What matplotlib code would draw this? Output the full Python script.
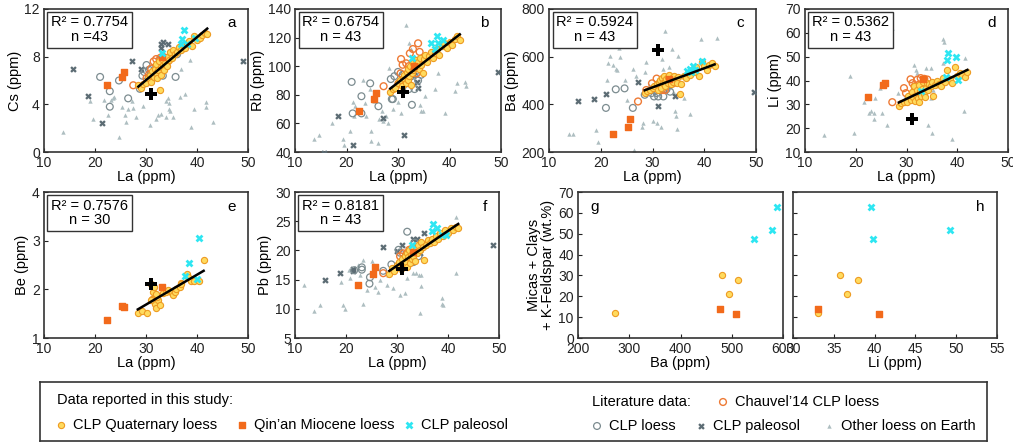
import numpy as np
import matplotlib
matplotlib.use('Agg')
from matplotlib import pyplot as plt

plt.rcParams['font.family'] = ['Liberation Sans', 'DejaVu Sans']
plt.rcParams['font.size'] = 10

# ---- data reported in this study ----
# CLP Quaternary loess (n = 43)
la_q = [28.5, 29.0, 29.5, 30.0, 30.3, 30.8, 31.0, 31.2, 31.5, 31.7, 31.9, 32.0, 32.2, 32.4, 32.5,
        32.7, 32.9, 33.0, 33.2, 33.4, 33.6, 33.8, 34.0, 34.2, 34.5, 34.8, 35.0, 35.3, 35.6, 36.0,
        36.4, 36.8, 37.2, 37.6, 38.0, 38.5, 39.0, 39.5, 40.0, 40.5, 41.0, 41.5, 42.0]
cs_q = [5.6, 5.4, 5.7, 5.8, 6.2, 6.5, 5.9, 6.8, 6.3, 7.0, 6.6, 7.4, 6.2, 6.9, 7.6,
        5.2, 7.1, 6.5, 7.8, 7.3, 6.9, 7.5, 8.0, 7.2, 7.7, 8.4, 7.9, 8.6, 8.2, 8.4,
        8.8, 8.6, 9.0, 8.7, 9.1, 9.3, 8.9, 9.7, 9.4, 9.6, 9.8, 10.0, 9.9]
rb_q = [82, 84, 85, 88, 90, 86, 92, 94, 88, 96, 90, 98, 93, 100, 87,
        95, 102, 97, 99, 104, 100, 103, 98, 106, 101, 95, 105, 108, 103, 107,
        110, 106, 109, 112, 108, 114, 116, 113, 117, 115, 119, 121, 118]
ba_q = [448, 455, 462, 470, 478, 485, 460, 492, 500, 470, 510, 488, 520, 495, 478,
        505, 515, 490, 525, 500, 485, 510, 495, 520, 505, 490, 515, 445, 485, 520,
        510, 530, 525, 545, 535, 555, 520, 578, 560, 545, 565, 575, 560]
li_q = [29.5, 30.5, 30.8, 31.0, 33.5, 32.0, 35.0, 33.0, 37.5, 31.5, 34.0, 36.0, 32.5, 38.0, 31.0,
        35.5, 33.5, 36.5, 39.5, 34.5, 33.0, 37.0, 39.0, 36.0, 38.5, 37.5, 39.5, 33.5, 38.0, 40.0,
        38.5, 37.5, 41.0, 39.5, 44.5, 40.5, 39.0, 45.5, 42.0, 43.0, 42.5, 41.5, 43.5]
pb_q = [16.0, 17.0, 16.5, 17.5, 18.0, 16.8, 18.5, 17.5, 19.0, 18.0, 19.5, 17.2, 18.8, 20.0, 17.8,
        19.2, 18.5, 20.5, 19.0, 19.8, 18.2, 20.2, 19.5, 21.0, 20.0, 21.5, 20.5, 18.3, 21.0, 21.8,
        21.2, 22.0, 21.5, 22.5, 22.0, 23.0, 22.5, 23.5, 23.0, 23.8, 23.5, 24.0, 23.8]
# Be measured on 30 samples
la_q_be = [28.4, 29.3, 30.1, 31.0, 31.4, 31.2, 31.7, 32.0, 32.4, 32.7, 32.2, 31.6, 32.0, 33.3, 34.0,
           34.3, 35.0, 35.3, 35.6, 35.9, 36.6, 36.8, 36.9, 38.0, 38.2, 38.9, 39.4, 40.4, 41.3, 31.0]
be_q = [1.52, 1.55, 1.52, 2.10, 1.95, 1.80, 1.70, 1.62, 1.78, 1.68, 1.85, 2.05, 1.90, 1.92, 1.95,
        1.98, 1.92, 1.88, 1.95, 2.00, 2.05, 2.12, 2.10, 2.32, 2.25, 2.18, 2.18, 2.18, 2.60, 1.78]

# Qin'an Miocene loess
la_m = [22.4, 25.3, 25.7, 33.2]
cs_m = [5.6, 6.3, 6.7, 8.0]
rb_m = [69, 77, 81, 100]
ba_m = [275, 305, 340, 505]
li_m = [33.0, 38.3, 38.8, 40.5]
be_m = [1.37, 1.65, 1.63, 2.05]
pb_m = [14.0, 16.0, 17.2, 19.7]

# CLP paleosol (this study)
la_p_cs = [33.2, 36.8, 37.4, 38.0, 39.6, 37.0]
cs_p = [8.3, 9.1, 10.2, 9.1, 9.6, 9.5]
la_p_rb = [32.7, 36.5, 37.5, 37.8, 37.1, 38.8]
rb_p = [106, 116, 121, 116, 112, 118]
la_p_ba = [36.6, 37.2, 37.8, 38.3, 39.5, 37.5]
ba_p = [540, 550, 560, 545, 580, 535]
la_p_li = [32.8, 37.9, 38.2, 39.8, 40.2, 37.7]
li_p = [35.4, 48.4, 51.4, 50.0, 40.3, 41.4]
la_p_be = [37.7, 38.4, 40.0, 40.4]
be_p = [2.28, 2.55, 2.22, 3.05]
la_p_pb = [32.9, 37.1, 37.8, 38.8, 36.8, 39.7]
pb_p = [20.9, 24.6, 23.8, 22.7, 23.3, 22.6]

# mineralogy (micas + clays + K-feldspar, wt.%)
ba_min_q = [272, 480, 495, 513]
li_min_q = [33.1, 35.8, 36.6, 38.0]
min_q = [12, 30, 21, 28]
ba_min_m = [478, 509]
li_min_m = [33.1, 40.6]
min_m = [14, 11.5]
ba_min_p = [544, 579, 588]
li_min_p = [39.8, 49.2, 39.5]
min_p = [47.6, 52, 63]

# upper continental crust
ucc_la = 31.0
ucc = {'Cs': 4.9, 'Rb': 82, 'Ba': 630, 'Li': 24, 'Be': 2.1, 'Pb': 16.8}

# ---- literature data ----
# Other loess on Earth (triangles)
tri_a_x = [13.7, 19.0, 19.6, 21.7, 22.5, 23.2, 23.5, 23.8, 24.8, 25.2, 25.8, 26.1, 26.5, 27.3, 27.5,
           28.1, 29.4, 30.7, 31.9, 32.4, 32.9, 33.9, 34.0, 34.3, 34.5, 34.6, 34.8, 35.2, 36.9, 37.6,
           39.5, 38.9, 38.6, 41.7, 41.8, 43.1, 36.6]
tri_a_y = [1.7, 4.3, 2.8, 4.4, 3.1, 4.4, 4.5, 4.6, 1.3, 3.8, 3.1, 2.5, 3.6, 4.3, 3.7,
           2.9, 3.9, 2.3, 2.8, 3.1, 3.2, 2.9, 4.3, 4.5, 3.6, 4.1, 3.4, 2.9, 7.0, 4.9,
           3.6, 2.1, 7.7, 4.2, 3.8, 2.5, 4.6]
tri_b_x = [13.6, 14.6, 17.1, 19.3, 19.5, 20.6, 21.2, 21.4, 21.6, 23.3, 23.5, 23.8, 24.7, 24.5, 24.8,
           25.3, 26.1, 26.3, 26.8, 27.1, 27.7, 28.1, 28.2, 29.0, 29.4, 30.0, 30.6, 31.6, 32.1, 32.6,
           33.6, 34.2, 34.5, 34.9, 35.2, 37.1, 37.7, 39.1, 41.0, 41.4, 43.0, 43.3]
tri_b_y = [49, 52, 60, 49, 45, 55, 75, 65, 72, 90, 74, 65, 55, 84, 48,
           76, 46, 63, 69, 62, 65, 60, 99, 70, 86, 75, 67, 129, 116, 112,
           94, 73, 69, 69, 79, 84, 95, 67, 83, 88, 89, 86]
tri_c_x = [13.8, 14.7, 19.0, 19.4, 21.2, 21.4, 21.8, 22.3, 22.9, 23.1, 23.5, 23.8, 24.6, 25.1, 26.2,
           26.4, 26.9, 28.0, 28.2, 28.5, 28.7, 29.4, 30.1, 30.8, 31.6, 31.8, 32.1, 32.4, 33.1, 33.7,
           34.2, 34.4, 34.5, 34.7, 34.9, 36.0, 37.3, 39.4, 42.5, 33.4, 34.7]
tri_c_y = [275, 275, 292, 244, 501, 573, 604, 563, 549, 542, 638, 597, 501, 419, 549,
           207, 518, 303, 323, 535, 577, 481, 330, 323, 303, 590, 549, 707, 556, 632,
           447, 371, 351, 296, 604, 426, 358, 673, 679, 474, 488]
tri_d_x = [13.8, 18.9, 19.6, 21.7, 22.7, 23.1, 23.5, 23.5, 23.8, 24.8, 25.1, 26.2, 26.4, 27.2, 28.3,
           29.7, 31.4, 31.9, 32.1, 32.5, 33.8, 34.3, 34.8, 34.8, 35.2, 35.1, 37.1, 37.4, 37.2, 39.0,
           41.3, 41.5, 32.5, 30.6]
tri_d_y = [17.0, 41.7, 18.0, 30.9, 26.3, 27.0, 26.3, 23.9, 32.6, 37.0, 26.3, 21.4, 60.5, 61.9, 34.7,
           32.9, 46.5, 44.4, 43.1, 37.5, 45.1, 21.4, 45.1, 32.6, 36.1, 18.0, 57.4, 56.3, 47.2, 15.6,
           27.3, 49.3, 34.0, 32.6]
tri_f_x = [11.8, 13.8, 14.9, 19.5, 19.8, 23.4, 34.5, 38.9, 19.0, 20.5, 20.8, 22.4, 22.7, 23.4, 24.1,
           25.0, 25.7, 26.3, 26.7, 26.3, 28.0, 28.3, 29.3, 30.6, 31.6, 32.0, 33.2, 33.8, 34.4, 34.8,
           38.8, 39.1, 41.6, 41.6, 34.8]
tri_f_y = [14.1, 9.6, 10.6, 10.6, 9.9, 10.9, 9.3, 10.9, 14.6, 16.7, 15.2, 17.5, 15.8, 18.4, 13.2,
           18.1, 13.8, 12.9, 14.9, 25.8, 14.1, 15.8, 13.5, 12.4, 12.7, 15.2, 16.1, 16.1, 15.8, 15.8,
           11.8, 10.7, 16.1, 25.8, 13.9]

# CLP paleosol (literature, dark crosses)
dx_a_x = [15.7, 18.6, 21.4, 27.3, 29.0, 32.9, 33.4, 34.3, 49.0, 33.0]
dx_a_y = [7.0, 4.7, 2.4, 7.6, 7.0, 9.1, 9.2, 9.1, 7.6, 8.7]
dx_b_x = [15.6, 18.4, 21.2, 27.1, 31.1, 33.6, 33.9, 33.1, 49.4]
dx_b_y = [39, 65, 45, 64, 52, 89, 85, 94, 96]
dx_c_x = [15.7, 18.6, 21.0, 27.2, 31.1, 34.4, 49.6]
dx_c_y = [412, 423, 442, 495, 395, 433, 453]
dx_f_x = [15.9, 18.8, 21.3, 21.3, 27.3, 30.9, 33.1, 33.9, 35.2, 48.9, 34.5, 30.0]
dx_f_y = [15.0, 16.2, 16.9, 16.5, 20.6, 21.0, 22.0, 22.0, 23.0, 21.0, 19.6, 19.9]

# CLP loess (literature, grey open circles)
gc_a_x = [21.0, 22.9, 22.9, 24.7, 26.5, 28.8, 29.3, 29.7, 30.1, 30.6, 31.0, 32.0, 32.7, 33.3, 36.1, 35.8]
gc_a_y = [6.3, 5.1, 3.8, 6.0, 4.5, 5.3, 6.4, 6.7, 7.3, 6.9, 6.0, 7.1, 7.7, 6.4, 8.2, 6.3]
gc_b_x = [21.0, 21.2, 22.9, 24.6, 22.9, 26.2, 28.8, 29.0, 28.6, 29.3, 30.0, 30.9, 31.6, 32.1, 32.6,
          32.7, 33.2, 33.9, 34.5]
gc_b_y = [89, 67, 79, 88, 67, 72, 77, 77, 91, 93, 96, 94, 88, 84, 93, 73, 84, 90, 94]
gc_c_x = [21.0, 22.9, 24.6, 26.2, 28.5, 29.8, 30.3, 31.1, 32.1, 32.7, 33.4, 32.1, 30.8]
gc_c_y = [385, 463, 467, 385, 440, 447, 433, 433, 433, 463, 453, 460, 447]
gc_f_x = [21.6, 23.1, 23.1, 24.7, 24.6, 27.3, 28.9, 30.3, 30.6, 32.0, 33.2, 33.5, 34.2, 37.8, 31.6]
gc_f_y = [16.6, 17.1, 16.7, 15.4, 14.3, 16.5, 17.6, 20.1, 19.6, 23.2, 18.0, 21.3, 19.0, 23.0, 18.4]

# Chauvel'14 CLP loess (orange open circles)
ch_a_x = [27.5, 30.1, 30.6, 31.0, 31.5, 32.0, 32.8, 33.3, 33.8, 31.9, 32.4, 34.3]
ch_a_y = [5.6, 6.2, 6.5, 7.0, 7.6, 7.8, 7.9, 8.0, 7.8, 6.9, 6.6, 7.6]
ch_b_x = [27.2, 30.6, 30.9, 31.6, 32.1, 32.3, 32.9, 33.9, 34.2, 30.5, 30.1, 33.6, 32.7]
ch_b_y = [86, 105, 101, 102, 100, 109, 112, 116, 110, 95, 88, 95, 97]
ch_c_x = [27.2, 28.8, 29.9, 30.8, 31.4, 31.8, 32.4, 32.7, 33.7, 34.0, 32.6]
ch_c_y = [412, 460, 488, 508, 474, 460, 460, 488, 508, 488, 501]
ch_d_x = [27.2, 29.5, 29.9, 30.8, 31.2, 31.6, 32.1, 32.4, 32.8, 33.5, 34.1, 31.9]
ch_d_y = [30.9, 36.8, 34.7, 40.5, 38.9, 37.5, 40.3, 38.2, 41.0, 40.7, 40.4, 36.1]
ch_f_x = [27.3, 30.6, 31.2, 31.8, 32.4, 33.2, 32.9, 33.9]
ch_f_y = [16.1, 19.0, 19.5, 19.3, 20.1, 19.7, 19.0, 20.4]

# ---- styles ----
C_YEL = dict(marker='o', s=20, facecolor='#FFDB5E', edgecolor='#EE9B22', linewidths=0.8, zorder=5)
C_MIO = dict(marker='s', s=14, color='#F26A1B', zorder=6)
C_PAL = dict(marker='X', s=32, color='#2EE6F2', linewidths=0, zorder=6)
C_CHA = dict(marker='o', s=24, facecolor='none', edgecolor='#EE7A35', linewidths=1.0, zorder=4)
C_GCL = dict(marker='o', s=24, facecolor='none', edgecolor='#7C8C90', linewidths=0.9, zorder=3)
C_DXX = dict(marker='X', s=22, color='#5C6C74', linewidths=0, zorder=3)
C_TRI = dict(marker='^', s=10, color='#AEBEC1', linewidths=0, zorder=2)
C_UCC = dict(marker='P', s=80, color='black', linewidths=0, zorder=8)
EDGE = '#333333'

W, H = 1013, 443
fig = plt.figure(figsize=(W / 100, H / 100), dpi=100)


def box(l, r, t, b):
    return [l / W, 1 - b / H, (r - l) / W, (b - t) / H]


def style(ax):
    for sp in ax.spines.values():
        sp.set_color(EDGE)
        sp.set_linewidth(1.2)
    ax.tick_params(direction='in', length=3, width=0.8, labelsize=10, pad=3, colors='#222222')


def stats(ax, txt):
    ax.text(0.035, 0.955, txt, transform=ax.transAxes, ha='left', va='top', fontsize=10.5,
            multialignment='center', linespacing=1.05,
            bbox=dict(boxstyle='square,pad=0.25', facecolor='white', edgecolor=EDGE, lw=1.0),
            zorder=10)


def letter(ax, s, x=0.94, ha='right'):
    ax.text(x, 0.9, s, transform=ax.transAxes, ha=ha, va='center', fontsize=11)


def fitline(ax, x, y):
    k, b = np.polyfit(x, y, 1)
    xs = np.array([min(x), max(x)])
    ax.plot(xs, k * xs + b, color='black', lw=1.8, zorder=7)


panels = [
    ('a', box(44, 248, 9, 152), 'Cs', (0, 12), [0, 4, 8, 12], 'R² = 0.7754\nn =43',
     (tri_a_x, tri_a_y), (dx_a_x, dx_a_y), (gc_a_x, gc_a_y), (ch_a_x, ch_a_y),
     (la_q, cs_q), (la_m, cs_m), (la_p_cs, cs_p)),
    ('b', box(295, 501, 9, 152), 'Rb', (40, 140), [40, 60, 80, 100, 120, 140], 'R² = 0.6754\nn = 43',
     (tri_b_x, tri_b_y), (dx_b_x, dx_b_y), (gc_b_x, gc_b_y), (ch_b_x, ch_b_y),
     (la_q, rb_q), (la_m, rb_m), (la_p_rb, rb_p)),
    ('c', box(549, 756, 9, 152), 'Ba', (200, 800), [200, 400, 600, 800], 'R² = 0.5924\nn = 43',
     (tri_c_x, tri_c_y), (dx_c_x, dx_c_y), (gc_c_x, gc_c_y), (ch_c_x, ch_c_y),
     (la_q, ba_q), (la_m, ba_m), (la_p_ba, ba_p)),
    ('d', box(805, 1008, 9, 152), 'Li', (10, 70), [10, 20, 30, 40, 50, 60, 70], 'R² = 0.5362\nn = 43',
     (tri_d_x, tri_d_y), None, None, (ch_d_x, ch_d_y),
     (la_q, li_q), (la_m, li_m), (la_p_li, li_p)),
    ('e', box(44, 248, 192, 338), 'Be', (1, 4), [1, 2, 3, 4], 'R² = 0.7576\nn = 30',
     None, None, None, None,
     (la_q_be, be_q), (la_m, be_m), (la_p_be, be_p)),
    ('f', box(295, 499, 192, 338), 'Pb', (5, 30), [5, 10, 15, 20, 25, 30], 'R² = 0.8181\nn = 43',
     (tri_f_x, tri_f_y), (dx_f_x, dx_f_y), (gc_f_x, gc_f_y), (ch_f_x, ch_f_y),
     (la_q, pb_q), (la_m, pb_m), (la_p_pb, pb_p)),
]

for (lab, pos, el, ylim, yt, txt, tri, dxx, gcl, cha, yel, mio, pal) in panels:
    ax = fig.add_axes(pos)
    style(ax)
    if tri:
        ax.scatter(*tri, **C_TRI)
    if dxx:
        ax.scatter(*dxx, **C_DXX)
    if gcl:
        ax.scatter(*gcl, **C_GCL)
    if cha:
        ax.scatter(*cha, **C_CHA)
    ax.scatter(*yel, **C_YEL)
    ax.scatter(*mio, **C_MIO)
    ax.scatter(*pal, **C_PAL)
    fitline(ax, *yel)
    ax.scatter([ucc_la], [ucc[el]], **C_UCC)
    ax.set_xlim(10, 50)
    ax.set_ylim(*ylim)
    ax.set_xticks([10, 20, 30, 40, 50])
    ax.set_yticks(yt)
    ax.set_xlabel('La (ppm)', fontsize=10.5, labelpad=0)
    ax.set_ylabel(f'{el} (ppm)', fontsize=10.5, labelpad=2)
    stats(ax, txt)
    letter(ax, lab)

# g: mineralogy vs Ba
axg = fig.add_axes(box(578, 783, 192, 338))
style(axg)
axg.scatter(ba_min_q, min_q, **C_YEL)
axg.scatter(ba_min_m, min_m, **C_MIO)
axg.scatter(ba_min_p, min_p, **C_PAL)
axg.set_xlim(200, 600)
axg.set_ylim(0, 70)
axg.set_xticks([200, 300, 400, 500, 600])
axg.set_yticks(range(0, 71, 10))
axg.set_xlabel('Ba (ppm)', fontsize=10.5, labelpad=0)
axg.set_ylabel('Micas + Clays\n+ K-Feldspar (wt.%)', fontsize=10.5, labelpad=2, linespacing=1.0)
letter(axg, 'g', x=0.06, ha='left')

# h: mineralogy vs Li
axh = fig.add_axes(box(793, 997, 192, 338))
style(axh)
axh.scatter(li_min_q, min_q, **C_YEL)
axh.scatter(li_min_m, min_m, **C_MIO)
axh.scatter(li_min_p, min_p, **C_PAL)
axh.set_xlim(30, 55)
axh.set_ylim(0, 70)
axh.set_xticks([30, 35, 40, 45, 50, 55])
axh.set_yticks(range(0, 71, 10))
axh.tick_params(labelleft=False)
axh.set_xlabel('Li (ppm)', fontsize=10.5, labelpad=0)
letter(axh, 'h')

# legend box
lg = fig.add_axes(box(40, 987, 382, 441))
lg.set_xlim(40, 987)
lg.set_ylim(441, 382)
lg.set_xticks([])
lg.set_yticks([])
for sp in lg.spines.values():
    sp.set_color(EDGE)
    sp.set_linewidth(1.2)

fs = 10.5
lg.text(57, 400, 'Data reported in this study:', fontsize=fs, va='center')
lg.text(592, 402, 'Literature data:', fontsize=fs, va='center')
entries = [
    (61, 425, C_YEL, 'CLP Quaternary loess'),
    (242, 425, C_MIO, 'Qin’an Miocene loess'),
    (409, 425, C_PAL, 'CLP paleosol'),
    (723, 402, C_CHA, 'Chauvel’14 CLP loess'),
    (597, 426, C_GCL, 'CLP loess'),
    (701, 426, C_DXX, 'CLP paleosol'),
    (829, 426, C_TRI, 'Other loess on Earth'),
]
for x, y, st, name in entries:
    lg.scatter([x], [y], **st)
    lg.text(x + 12, y, name, fontsize=fs, va='center')

plt.savefig('out.png', dpi=100)
